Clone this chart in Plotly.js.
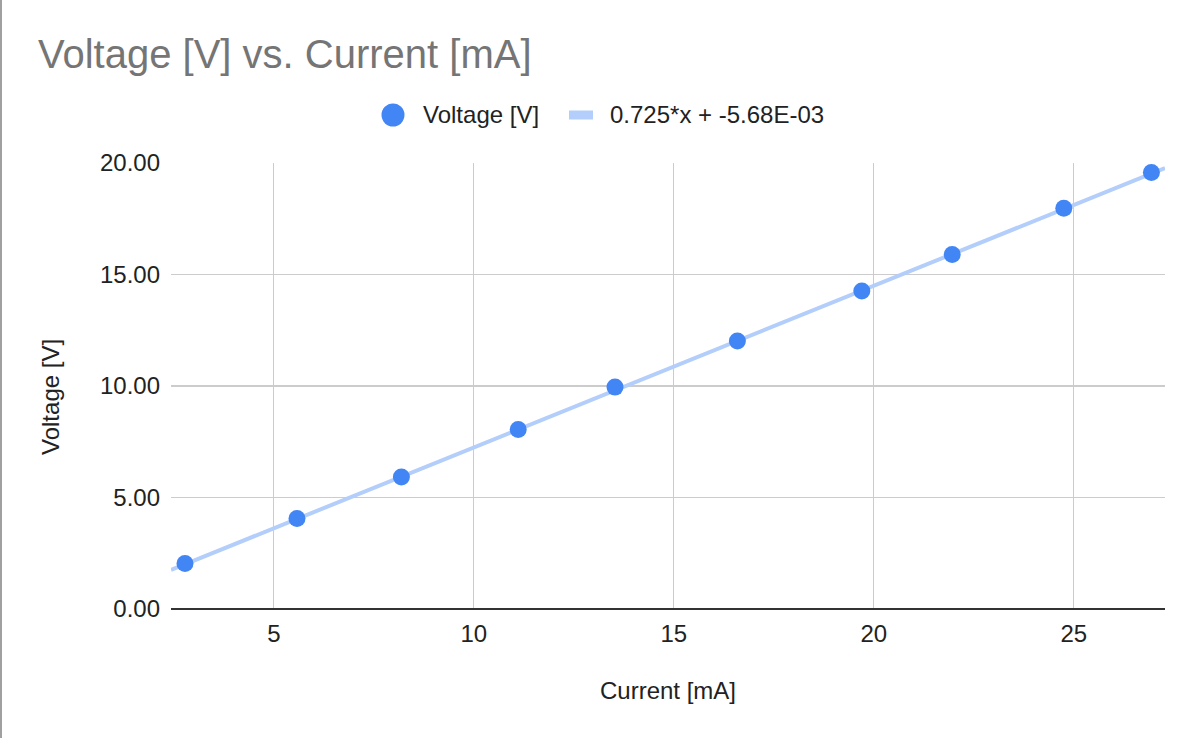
<!DOCTYPE html>
<html>
<head>
<meta charset="utf-8">
<script src="https://cdn.plot.ly/plotly-3.0.1.min.js"></script>
<style>
  body { margin: 0; background: #ffffff; }
  #chart { width: 1186px; height: 738px; }
  .edge { position: absolute; left: 0; top: 0; width: 2px; height: 738px; background: #a0a0a0; }
</style>
</head>
<body>
<div id="chart"></div>
<div class="edge"></div>
<script>
// measured points (current in mA, voltage in V)
var currentMA = [2.78, 5.58, 8.19, 11.11, 13.53, 16.59, 19.70, 21.96, 24.75, 26.94];
var voltageV = [2.04, 4.06, 5.92, 8.05, 9.95, 12.02, 14.26, 15.90, 17.97, 19.57];

// linear fit as given in the legend
var fitSlope = 0.725;
var fitIntercept = -5.68e-3;
var fitLabel = '0.725*x + -5.68E-03';
var seriesLabel = 'Voltage [V]';

var xRange = [2.43, 27.28];
var yRange = [0, 20];

var font = 'Liberation Sans, Arial, sans-serif';
var blue = '#4285f4';
var lightBlue = '#b3cefb';
var textColor = '#222222';

var W = 1186, H = 738;
var margin = {l: 171, r: 21, t: 163, b: 129, pad: 0};
var plotW = W - margin.l - margin.r;
var plotH = H - margin.t - margin.b;

// pixel -> paper helpers, used for the hand drawn legend
function px(x) { return (x - margin.l) / plotW; }
function py(y) { return (H - margin.b - y) / plotH; }

// trendline spans the whole x range
var trendX = xRange.slice();
var trendY = trendX.map(function (x) { return fitSlope * x + fitIntercept; });

var traces = [
  {
    x: trendX,
    y: trendY,
    type: 'scatter',
    mode: 'lines',
    name: fitLabel,
    line: {color: lightBlue, width: 4},
    hoverinfo: 'skip'
  },
  {
    x: currentMA,
    y: voltageV,
    type: 'scatter',
    mode: 'markers',
    name: seriesLabel,
    marker: {color: blue, size: 17}
  }
];

// legend row (plotly's own legend packs the items too tightly)
var legendY = 115;
var legendShapes = [
  {
    type: 'circle', xref: 'paper', yref: 'paper',
    x0: px(393 - 11.5), x1: px(393 + 11.5), y0: py(legendY + 11.5), y1: py(legendY - 11.5),
    fillcolor: blue, line: {width: 0}
  },
  {
    type: 'rect', xref: 'paper', yref: 'paper',
    x0: px(569), x1: px(593), y0: py(legendY + 4.5), y1: py(legendY - 4.5),
    fillcolor: lightBlue, line: {width: 0}
  }
];
var legendLabels = [
  {text: seriesLabel, x: px(421), y: py(legendY)},
  {text: fitLabel, x: px(608), y: py(legendY)}
].map(function (a) {
  return Object.assign(a, {
    xref: 'paper', yref: 'paper', xanchor: 'left', yanchor: 'middle',
    showarrow: false, font: {family: font, size: 24, color: textColor}
  });
});

var layout = {
  width: W,
  height: H,
  font: {family: font, size: 24, color: textColor},
  paper_bgcolor: '#ffffff',
  plot_bgcolor: '#ffffff',
  margin: margin,
  title: {
    text: 'Voltage [V] vs. Current [mA]',
    font: {family: font, size: 40, color: '#757575'},
    xref: 'container',
    yref: 'container',
    x: 38 / W,
    xanchor: 'left',
    y: 1 - 54 / H,
    yanchor: 'middle'
  },
  showlegend: false,
  xaxis: {
    range: xRange,
    dtick: 5,
    tick0: 0,
    showgrid: true,
    gridcolor: '#cccccc',
    gridwidth: 1.3,
    zeroline: false,
    showline: false,
    ticks: '',
    ticklabelstandoff: 8,
    title: {text: 'Current [mA]', standoff: 36, font: {family: font, size: 24, color: textColor}}
  },
  yaxis: {
    range: yRange,
    dtick: 5,
    tick0: 0,
    tickformat: '.2f',
    showgrid: true,
    gridcolor: '#cccccc',
    gridwidth: 1.3,
    zeroline: true,
    zerolinecolor: '#333333',
    zerolinewidth: 1.7,
    showline: false,
    ticks: '',
    ticklabelstandoff: 10
  },
  shapes: legendShapes,
  // y title sits a little below the plot centre in the original, so place it by hand
  annotations: legendLabels.concat([
    {
      text: 'Voltage [V]',
      textangle: -90,
      xref: 'paper',
      yref: 'paper',
      x: px(50),
      y: py(397),
      xanchor: 'center',
      yanchor: 'middle',
      showarrow: false,
      font: {family: font, size: 24, color: textColor}
    }
  ])
};

var config = {staticPlot: true, displayModeBar: false};

Plotly.newPlot('chart', traces, layout, config);
</script>
</body>
</html>
